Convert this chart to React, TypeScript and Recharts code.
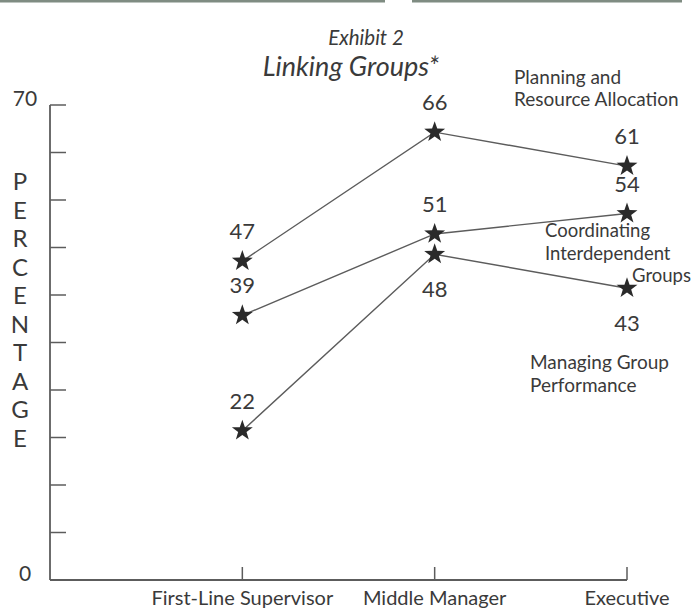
import React from 'react';
import { LineChart, Line, XAxis, YAxis, LabelList } from 'recharts';

// Career levels along the horizontal axis (plotted at positions 1..3)
const categories = ['First-Line Supervisor', 'Middle Manager', 'Executive'];
const positions = [1, 2, 3];

// Percentage of managers reporting each linking-group activity
const planning = [47, 66, 61];
const coordinating = [39, 51, 54];
const managing = [22, 48, 43];

// Where each value label sits relative to its point
const planningSides = ['above', 'above', 'above'];
const coordinatingSides = ['above', 'above', 'above'];
const managingSides = ['above', 'below', 'below'];

const yTicks = [0, 7, 14, 21, 28, 35, 42, 49, 56, 63, 70];
const yLabelled = [0, 70];

const data = positions.map((p, i) => ({
  pos: p,
  planning: planning[i],
  coordinating: coordinating[i],
  managing: managing[i],
}));

const FONT = 'Lato, "Open Sans", sans-serif';
const INK = '#3a3a3a';
const LINE = '#5c5c5c';

const W = 700;
const H = 610;

function StarDot(props: any) {
  const { cx, cy } = props;
  if (cx == null || cy == null) return null;
  const pts: string[] = [];
  for (let i = 0; i < 10; i++) {
    const r = i % 2 === 0 ? 11 : 4.4;
    const a = (-90 + i * 36) * (Math.PI / 180);
    pts.push(`${cx + r * Math.cos(a)},${cy + r * Math.sin(a)}`);
  }
  return <polygon points={pts.join(' ')} fill="#2a2a2a" />;
}

function makeValueLabel(sides: string[]) {
  return (props: any) => {
    const { x, y, value, index } = props;
    const above = sides[index] !== 'below';
    const ty = above ? y - 30 + 8 : y + 35 + 8;
    return (
      <text
        x={x}
        y={ty}
        textAnchor="middle"
        fontFamily={FONT}
        fontSize={22}
        fill={INK}
      >
        {value}
      </text>
    );
  };
}

function YTick(props: any) {
  const { x, y, payload } = props;
  const v = payload.value;
  return (
    <g>
      {v !== 0 && (
        <line x1={x} y1={y} x2={x + 16} y2={y} stroke={LINE} strokeWidth={1.5} />
      )}
      {yLabelled.includes(v) && (
        <text
          x={x - 25}
          y={y + 1}
          textAnchor="middle"
          fontFamily={FONT}
          fontSize={21}
          fill={INK}
        >
          {v}
        </text>
      )}
    </g>
  );
}

function XTick(props: any) {
  const { x, y, payload } = props;
  const idx = positions.indexOf(payload.value);
  return (
    <g>
      <line x1={x} y1={y} x2={x} y2={y - 13} stroke={LINE} strokeWidth={1.5} />
      <text
        x={x}
        y={y + 25}
        textAnchor="middle"
        fontFamily={FONT}
        fontSize={20}
        fill={INK}
      >
        {idx >= 0 ? categories[idx] : ''}
      </text>
    </g>
  );
}

const axisLetters = 'PERCENTAGE'.split('');

export default function App() {
  return (
    <div
      style={{
        position: 'absolute',
        left: 0,
        top: 0,
        width: W,
        height: H,
        background: '#ffffff',
        overflow: 'hidden',
      }}
    >
      <LineChart
        width={W}
        height={H}
        data={data}
        margin={{ top: 105, right: 73, bottom: 0, left: 0 }}
      >
        <XAxis
          dataKey="pos"
          type="number"
          domain={[0, 3]}
          ticks={positions}
          height={30}
          tickSize={0}
          tickMargin={0}
          tick={<XTick />}
          axisLine={{ stroke: LINE, strokeWidth: 1.8 }}
          tickLine={false}
          interval={0}
        />
        <YAxis
          type="number"
          domain={[0, 70]}
          ticks={yTicks}
          width={50}
          tickSize={0}
          tickMargin={0}
          tick={<YTick />}
          axisLine={{ stroke: LINE, strokeWidth: 1.8 }}
          tickLine={false}
          interval={0}
        />
        <Line
          dataKey="planning"
          stroke={LINE}
          strokeWidth={1.4}
          dot={<StarDot />}
          activeDot={false}
          isAnimationActive={false}
        >
          <LabelList dataKey="planning" content={makeValueLabel(planningSides)} />
        </Line>
        <Line
          dataKey="coordinating"
          stroke={LINE}
          strokeWidth={1.4}
          dot={<StarDot />}
          activeDot={false}
          isAnimationActive={false}
        >
          <LabelList dataKey="coordinating" content={makeValueLabel(coordinatingSides)} />
        </Line>
        <Line
          dataKey="managing"
          stroke={LINE}
          strokeWidth={1.4}
          dot={<StarDot />}
          activeDot={false}
          isAnimationActive={false}
        >
          <LabelList dataKey="managing" content={makeValueLabel(managingSides)} />
        </Line>
      </LineChart>

      <svg
        width={W}
        height={H}
        style={{ position: 'absolute', left: 0, top: 0, pointerEvents: 'none' }}
      >
        <rect x={0} y={0} width={385} height={2.5} fill="#7f8c82" />
        <rect x={412} y={0} width={270} height={2.5} fill="#7f8c82" />

        <text x={366} y={45} textAnchor="middle" fontFamily={FONT} fontStyle="italic" fontSize={20.5} fill={INK}>
          Exhibit 2
        </text>
        <text x={351} y={76} textAnchor="middle" fontFamily={FONT} fontStyle="italic" fontSize={27} fill={INK}>
          Linking Groups*
        </text>

        {axisLetters.map((ch, i) => (
          <text
            key={i}
            x={20}
            y={190 + i * 28.5}
            textAnchor="middle"
            fontFamily={FONT}
            fontSize={24}
            fill={INK}
          >
            {ch}
          </text>
        ))}

        <g fontFamily={FONT} fill={INK}>
          <g fontSize={19}>
            <text x={514} y={84}>Planning and</text>
            <text x={514} y={106}>Resource Allocation</text>
          </g>

          <g fontSize={18.5}>
            <text x={545} y={237}>Coordinating</text>
            <text x={545} y={259.5}>Interdependent</text>
            <text x={691} y={282} textAnchor="end">Groups</text>
          </g>

          <g fontSize={19}>
            <text x={530} y={369}>Managing Group</text>
            <text x={530} y={392}>Performance</text>
          </g>
        </g>
      </svg>
    </div>
  );
}
